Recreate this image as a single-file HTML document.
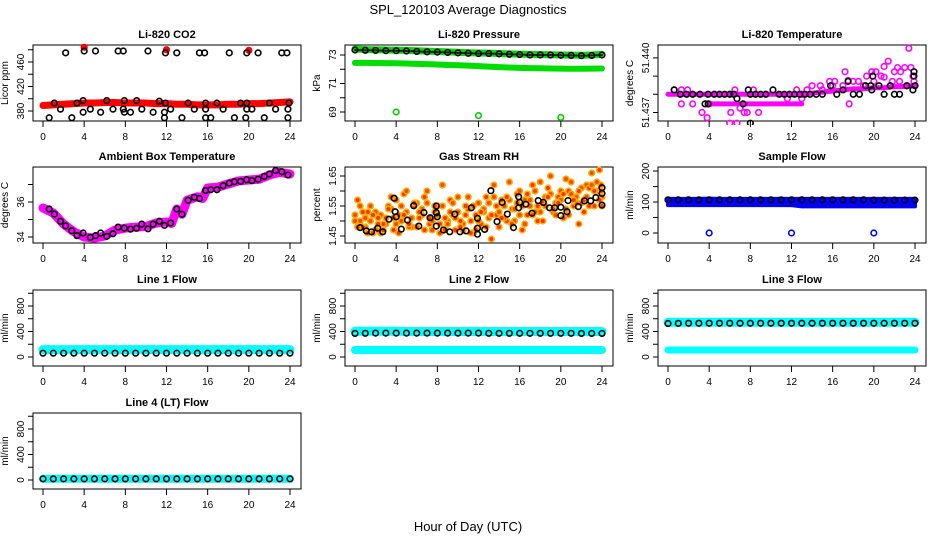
<!DOCTYPE html>
<html><head><meta charset="utf-8">
<style>
html,body{margin:0;padding:0;background:#fff;}
svg{display:block;font-family:"Liberation Sans",sans-serif;}
</style></head>
<body>
<svg id="chart" width="936" height="540" viewBox="0 0 936 540" xmlns="http://www.w3.org/2000/svg">
<text x="468" y="14" text-anchor="middle" font-size="13">SPL_120103  Average Diagnostics</text>
<text x="468" y="531" text-anchor="middle" font-size="13">Hour of Day (UTC)</text>
</svg>
<script>
// ---------- data ----------
const hours = [0,1,2,3,4,5,6,7,8,9,10,11,12,13,14,15,16,17,18,19,20,21,22,23,24];
const halfHours = [0,0.5,1,1.5,2,2.5,3,3.5,4,4.5,5,5.5,6,6.5,7,7.5,8,8.5,9,9.5,10,10.5,11,11.5,12,12.5,13,13.5,14,14.5,15,15.5,16,16.5,17,17.5,18,18.5,19,19.5,20,20.5,21,21.5,22,22.5,23,23.5,24];
const halfHoursB = [0.25,0.75,1.25,1.75,2.25,2.75,3.25,3.75,4.25,4.75,5.25,5.75,6.25,6.75,7.25,7.75,8.25,8.75,9.25,9.75,10.25,10.75,11.25,11.75,12.25,12.75,13.25,13.75,14.25,14.75,15.25,15.75,16.25,16.75,17.25,17.75,18.25,18.75,19.25,19.75,20.25,20.75,21.25,21.75,22.25,22.75,23.25,23.75,23.9];
const spikeHours = [4,12,20];

// CO2
const co2Red = [389,390,391,392,393,393,394,394,393,393,393,392,392,391,391,390,390,390,391,391,392,392,393,394,395];
const co2RedSpikes = [484,480,479];
const co2BlackX = [0.6,1.1,1.7,2.2,2.8,3.3,3.9,3.9,4,4.6,5.1,5.6,6.2,6.8,7.3,7.8,7.8,7.9,7.9,8.5,9.1,9.6,10.2,10.7,11.3,11.8,11.8,11.9,11.9,12.4,13,13.5,14.1,14.7,15.2,15.7,15.8,15.8,15.8,16.3,16.9,17.5,18.1,18.6,19.2,19.7,19.8,19.8,19.8,20.3,20.9,21.5,22,22.6,23.2,23.7,23.8,23.8,23.9];
const co2BlackY = [369,393,383,475,369,393,378,397,478,383,478,378,397,383,478,478,383,378,397,378,397,383,478,378,396,369,378,475,393,383,475,369,393,383,475,475,383,393,369,369,393,383,475,369,393,369,383,393,475,383,475,369,393,383,475,475,383,369,393];

// Pressure
const presBlack = [73.35,73.33,73.32,73.3,73.3,73.28,73.25,73.22,73.2,73.18,73.15,73.12,73.1,73.1,73.08,73.05,73.03,73.0,73.0,73.0,72.98,72.97,72.95,72.97,73.0];
const presGreenUp = [73.42,73.38,73.36,73.35,73.34,73.32,73.3,73.27,73.24,73.22,73.19,73.16,73.14,73.13,73.1,73.08,73.06,73.04,73.03,73.02,73.0,72.99,72.98,73.0,73.04];
const presGreenLow = [72.45,72.45,72.44,72.43,72.42,72.4,72.38,72.36,72.33,72.3,72.28,72.25,72.22,72.18,72.15,72.12,72.1,72.08,72.07,72.05,72.04,72.03,72.03,72.04,72.05];
const presSpikes = [69.0,68.75,68.62];

// Li-820 temperature
const tempBase = [51.438,51.438,51.438,51.438,51.438,51.438,51.438,51.438,51.438,51.438,51.438,51.438,51.438,51.438,51.43806,51.43812,51.43818,51.43824,51.4383,51.4383,51.43836,51.43836,51.43842,51.43842,51.43848];
const tempLowX = [4,5,6,7,8,9,10,11,12,13];
const tempLowY = [51.43747,51.43747,51.43747,51.43747,51.43747,51.43747,51.43747,51.43747,51.43747,51.43747];
const tempMagX = [0.6,1.3,1.9,1.3,2.4,3.3,3.8,4,6,6.1,6.5,6.7,7,7.4,7.7,8.3,8.8,11.6,12.5,13,13.5,14.8,15.7,16.2,17.2,17.6,17.5,18.5,19.3,19.8,20.2,20.7,21,21.4,21.8,22,22.3,22.6,23,23.2,23.4,23.6,23.8,23.9,16,18,20,22.5,21,19,14,15,13,17];
const tempMagY = [51.43824,51.43824,51.43824,51.43747,51.43747,51.437,51.43671,51.43747,51.43641,51.437,51.43824,51.43641,51.43724,51.437,51.437,51.43824,51.437,51.43776,51.43824,51.43776,51.43824,51.43847,51.43871,51.43871,51.43924,51.43747,51.43876,51.43871,51.439,51.43924,51.43924,51.439,51.43953,51.43982,51.43871,51.43924,51.43947,51.43924,51.43947,51.43847,51.44053,51.43947,51.439,51.43871,51.43847,51.43871,51.43871,51.43871,51.43894,51.43847,51.43847,51.43824,51.438,51.43847];
const tempBlkX = [0.6,1.2,1.8,2.4,3.1,3.6,3.9,3.9,4.5,5,5.5,6,6.4,6.7,7.3,7.8,8,8,8.5,9,9.5,10.2,10.8,11.3,11.8,12.3,12.8,13.3,13.8,14.4,15,15.8,16.4,17,17.5,18,18.6,19.2,19.7,19.9,19.8,20.5,21,21.6,22,22.5,23.2,23.8,23.9,23.9,24];
const tempBlkY = [51.43824,51.438,51.438,51.438,51.438,51.43747,51.43747,51.438,51.438,51.438,51.438,51.438,51.438,51.43776,51.43747,51.43824,51.43641,51.438,51.438,51.438,51.438,51.43824,51.438,51.438,51.438,51.438,51.438,51.438,51.438,51.438,51.438,51.43847,51.438,51.43824,51.43871,51.438,51.438,51.43847,51.43847,51.439,51.43824,51.43847,51.438,51.43847,51.438,51.438,51.43847,51.43824,51.439,51.43924,51.43847];

// Ambient box temperature
const ambMagX = [0,1,2,3,4,5,6,7,8,9,10,11,12,12.5,13,13.5,14,15,15.5,16,17,18,19,20,21,22,23,24];
const ambMagY = [35.66,35.37,34.74,34.3,34.0,33.94,34.06,34.4,34.51,34.57,34.6,34.8,34.86,34.78,35.6,35.3,36.1,36.3,36.2,36.8,36.85,37.03,37.2,37.26,37.3,37.54,37.7,37.6];
const ambBlkX = [0.6,1.1,1.7,2.2,2.8,3.3,3.9,4.6,5.1,5.6,6.2,6.8,7.3,7.9,8.5,9.1,9.6,10.2,10.7,11.3,11.8,12.4,13,13.5,14.1,14.7,15.2,15.8,16.3,16.9,17.5,18.1,18.6,19.2,19.8,20.3,20.9,21.5,22,22.6,23.2,23.8];
const ambBlkY = [35.6,35.31,34.9,34.64,34.36,34.08,34.23,33.98,34.08,34.23,34.04,34.19,34.57,34.51,34.45,34.5,34.74,34.47,34.74,34.9,34.67,34.8,35.6,35.3,36.1,36.27,36.2,36.66,36.7,36.7,36.93,37.08,37.16,37.18,37.27,37.22,37.3,37.46,37.6,37.8,37.73,37.54];

// Gas stream RH
const rhO1 = [1.52,1.50,1.48,1.55,1.47,1.52,1.49,1.54,1.57,1.50,1.53,1.48,1.56,1.52,1.60,1.47,1.55,1.62,1.50,1.52,1.58,1.49,1.54,1.46,1.56,1.53,1.51,1.58,1.48,1.55,1.63,1.50,1.52,1.57,1.55,1.60,1.53,1.58,1.65,1.56,1.60,1.54,1.63,1.58,1.56,1.62,1.66,1.60,1.58];
const rhO2 = [1.57,1.48,1.53,1.46,1.51,1.49,1.55,1.47,1.52,1.59,1.48,1.55,1.51,1.58,1.49,1.53,1.46,1.51,1.57,1.47,1.50,1.55,1.46,1.52,1.49,1.58,1.44,1.52,1.57,1.50,1.54,1.59,1.47,1.52,1.62,1.50,1.56,1.61,1.53,1.58,1.51,1.60,1.55,1.49,1.57,1.61,1.55,1.67,1.62];
const rhO3 = [1.50,1.55,1.51,1.50,1.53,1.46,1.51,1.58,1.49,1.55,1.60,1.51,1.48,1.54,1.56,1.50,1.52,1.55,1.49,1.56,1.53,1.47,1.58,1.55,1.50,1.54,1.56,1.62,1.53,1.51,1.57,1.54,1.60,1.49,1.57,1.53,1.63,1.55,1.59,1.52,1.57,1.64,1.59,1.56,1.61,1.58,1.62,1.63,1.55];
const rhO4 = [1.48,1.53,1.46,1.52,1.49,1.47,1.54,1.51,1.46,1.52,1.49,1.56,1.53,1.47,1.51,1.55,1.49,1.47,1.53,1.51,1.48,1.52,1.50,1.47,1.53,1.48,1.52,1.55,1.51,1.58,1.49,1.56,1.55,1.59,1.52,1.55,1.50,1.58,1.54,1.56,1.59,1.52,1.57,1.60,1.53,1.55,1.60,1.57,1.60];
const rhBlkX = [0.5,1.1,1.6,2.2,2.7,3.3,3.8,3.9,4.0,4.5,5.1,5.7,6.2,6.7,7.3,7.9,7.9,8.0,7.9,8.6,9.2,9.7,10.2,10.8,11.3,11.9,11.9,11.9,12.6,13.2,13.8,14.3,14.8,15.4,15.9,16.0,15.9,16.6,17.2,17.8,18.3,18.9,19.4,20.0,20.0,20.6,20.7,21.7,22.3,22.9,23.4,24.0,24.0,24.0];
const rhBlkY = [1.478,1.467,1.464,1.476,1.464,1.506,1.576,1.531,1.514,1.473,1.503,1.551,1.483,1.528,1.511,1.55,1.528,1.514,1.483,1.47,1.464,1.523,1.464,1.467,1.544,1.509,1.476,1.456,1.472,1.601,1.498,1.562,1.523,1.478,1.581,1.562,1.544,1.556,1.526,1.568,1.562,1.544,1.544,1.546,1.518,1.531,1.568,1.548,1.567,1.567,1.578,1.611,1.592,1.553];

// Sample flow
const sampleBlueUp = [110,110,110,110,111,110,110,110,110,110,110,110,110,110,110,110,110,110,110,110,110,110,110,110,110];
const sampleBlueLow = [90,90,90,90,90,90,90,90,90,90,90,90,90,86,86,86,86,86,86,86,86,86,86,86,86];
const sampleBlack = [107,107,107,107,107,107,107,107,107,107,107,107,107,107,107,107,107,107,107,107,106,106,106,106,106];
const sampleSpikes = [0,0,0];

// Line flows
const line1Cyan = [115,115,115,115,115,115,115,115,115,115,115,115,115,115,115,115,115,115,115,115,115,115,115,115,115];
const line1Black = [60,60,60,60,60,60,60,60,60,60,60,60,60,60,60,60,60,60,60,60,60,60,60,60,60];
const line2CyanUp = [405,405,405,405,405,400,400,400,400,400,400,400,400,400,400,400,400,400,400,400,400,400,400,400,400];
const line2CyanLow = [110,110,110,110,110,110,110,110,110,110,110,110,110,110,110,110,110,110,110,110,110,110,110,110,110];
const line2Black = [370,372,375,375,375,375,375,375,375,375,375,375,375,372,372,372,372,372,372,372,372,372,370,370,370];
const line3CyanUp = [545,545,545,545,545,545,545,545,545,545,545,545,545,545,545,545,545,545,545,545,545,545,545,545,545];
const line3CyanLow = [110,110,110,110,110,110,110,110,110,110,110,110,110,110,110,110,110,110,110,110,110,110,110,110,110];
const line3Black = [525,528,530,530,530,530,530,530,530,530,530,530,530,530,530,530,530,530,530,530,530,530,530,530,530];
const line4Cyan = [20,20,20,20,20,20,20,20,20,20,20,20,20,20,20,20,20,20,20,20,20,20,20,20,20];
const line4Black = [18,18,18,18,18,18,18,18,18,18,18,18,18,18,18,18,18,18,18,18,18,18,18,18,18];

const xTicks = [0,4,8,12,16,20,24];

// ---------- drawing ----------
const svg = document.getElementById('chart');
const NS = 'http://www.w3.org/2000/svg';
function mk(tag, parent){ const e = document.createElementNS(NS, tag); parent.appendChild(e); return e; }

const cols = [33, 345, 658];
const tops = [45, 167, 290, 413];
const W = 268, H = 76;

function makePanel(slug, title, ylab, col, row, ymin, ymax, ticks, labels, fmt){
  const L = cols[col], T = tops[row];
  const g = mk('g', svg);
  
  
  const x = h => L + 10 + h * (W - 21) / 24;
  const y = v => T + H - (v - ymin) / (ymax - ymin) * H;
  const box = mk('rect', g);
  box.setAttribute('x', L); box.setAttribute('y', T); box.setAttribute('width', W); box.setAttribute('height', H);
  box.setAttribute('fill', 'none'); box.setAttribute('stroke', '#000'); box.setAttribute('stroke-width', '1');
  
  
  const t = mk('text', g);
  t.setAttribute('x', L + W / 2); t.setAttribute('y', T - 7); t.setAttribute('text-anchor', 'middle');
  t.setAttribute('font-size', '11'); t.setAttribute('font-weight', 'bold');
  t.textContent = title;
  
  
  const yl = mk('text', g);
  yl.setAttribute('transform', `translate(${L - 25},${T + H / 2}) rotate(-90)`);
  yl.setAttribute('text-anchor', 'middle'); yl.setAttribute('font-size', '10');
  yl.textContent = ylab;
  
  
  // x axis
  const xa = mk('path', g);
  let d = `M${x(0)},${T + H}H${x(24)}`;
  xTicks.forEach(v => { d += `M${x(v)},${T + H}v6`; });
  xa.setAttribute('d', d); xa.setAttribute('stroke', '#000'); xa.setAttribute('fill', 'none');
  
  
  xTicks.forEach(v => {
    const tl = mk('text', g);
    tl.setAttribute('x', x(v)); tl.setAttribute('y', T + H + 19); tl.setAttribute('text-anchor', 'middle'); tl.setAttribute('font-size', '10');
    tl.textContent = v;
    
    
  });
  // y axis
  const ya = mk('path', g);
  let dy = `M${L},${y(ticks[0])}V${y(ticks[ticks.length - 1])}`;
  ticks.forEach(v => { dy += `M${L},${y(v)}h-5`; });
  ya.setAttribute('d', dy); ya.setAttribute('stroke', '#000'); ya.setAttribute('fill', 'none');
  
  
  labels.forEach(v => {
    const tl = mk('text', g);
    tl.setAttribute('transform', `translate(${L - 9},${y(v)}) rotate(-90)`);
    tl.setAttribute('text-anchor', 'middle'); tl.setAttribute('font-size', '10');
    tl.textContent = fmt ? fmt(v) : v;
    
    
  });
  const clipId = 'clip-' + slug;
  const cp = mk('clipPath', g); cp.setAttribute('id', clipId);
  const cr = mk('rect', cp); cr.setAttribute('x', L - 4); cr.setAttribute('y', T - 4); cr.setAttribute('width', W + 8); cr.setAttribute('height', H + 8);
  const data = mk('g', g);
  data.setAttribute('clip-path', `url(#${clipId})`);
  
  
  return {g: data, x, y};
}

function band(p, xs, ys, color, width, name){
  const pl = mk('polyline', p.g);
  pl.setAttribute('points', xs.map((h, i) => `${p.x(h)},${p.y(ys[i])}`).join(' '));
  pl.setAttribute('fill', 'none'); pl.setAttribute('stroke', color); pl.setAttribute('stroke-width', width);
  pl.setAttribute('stroke-linecap', 'round'); pl.setAttribute('stroke-linejoin', 'round');
  
  
}
function area(p, xs, up, low, color, name){
  const pts = xs.map((h, i) => `${p.x(h)},${p.y(up[i])}`).concat(xs.slice().reverse().map((h, j) => `${p.x(h)},${p.y(low[xs.length - 1 - j])}`));
  const pg = mk('polygon', p.g);
  pg.setAttribute('points', pts.join(' '));
  pg.setAttribute('fill', color); pg.setAttribute('stroke', color); pg.setAttribute('stroke-width', '4'); pg.setAttribute('stroke-linejoin', 'round');
  
  
}
function pts(p, xs, ys, color, name, fill){
  xs.forEach((h, i) => {
    const c = mk('circle', p.g);
    c.setAttribute('cx', p.x(h)); c.setAttribute('cy', p.y(ys[i])); c.setAttribute('r', '2.8');
    c.setAttribute('fill', fill || 'none'); c.setAttribute('stroke', color); c.setAttribute('stroke-width', '1.6');
    
    
  });
}

// CO2
let p = makePanel('co2', 'Li-820 CO2', 'Licor ppm', 0, 0, 363.7, 487.8, [380,400,420,440,460,480], [380,420,460]);
band(p, hours, co2Red, '#ff0000', 7, 'co2-red-band');
pts(p, spikeHours, co2RedSpikes, '#ff0000', 'co2-red-point', '#ff0000');
pts(p, co2BlackX, co2BlackY, '#000', 'co2-black-point');

// Pressure
p = makePanel('pressure', 'Li-820 Pressure', 'kPa', 1, 0, 68.37, 73.7, [69,70,71,72,73], [69,71,73]);
band(p, hours, presGreenUp, '#00dd00', 7, 'pressure-green-upper-band');
band(p, hours, presGreenLow, '#00dd00', 6, 'pressure-green-lower-band');
pts(p, spikeHours, presSpikes, '#00cc00', 'pressure-green-point');
band(p, hours, presBlack, '#222', 2, 'pressure-black-line');
pts(p, hours, presBlack, '#000', 'pressure-black-point');

// Li-820 temperature
p = makePanel('li820-temp', 'Li-820 Temperature', 'degrees C', 2, 0, 51.43653, 51.44071, [51.437,51.438,51.439,51.44], [51.437,51.44], v => v.toFixed(3));
band(p, hours, tempBase, '#ff00ff', 5, 'li820-temp-magenta-band');
band(p, tempLowX, tempLowY, '#ff00ff', 5, 'li820-temp-magenta-low-band');
pts(p, tempMagX, tempMagY, '#ff00ff', 'li820-temp-magenta-point');
pts(p, tempBlkX, tempBlkY, '#000', 'li820-temp-black-point');

// Ambient
p = makePanel('ambient-temp', 'Ambient Box Temperature', 'degrees C', 0, 1, 33.66, 38.0, [34,35,36,37], [34,36]);
band(p, ambMagX, ambMagY, '#ff00ff', 9, 'ambient-magenta-band');
pts(p, ambBlkX, ambBlkY, '#000', 'ambient-black-point');

// RH
p = makePanel('rh', 'Gas Stream RH', 'percent', 1, 1, 1.4267, 1.68, [1.45,1.5,1.55,1.6,1.65], [1.45,1.55,1.65], v => v.toFixed(2));
pts(p, halfHours, rhO1, '#ffa500', 'rh-orange-point', '#e85000');
pts(p, halfHoursB, rhO2, '#ffb000', 'rh-orange-point', '#ff3000');
pts(p, halfHours, rhO3, '#ffa500', 'rh-orange-point', '#e85000');
pts(p, halfHoursB, rhO4, '#ffb000', 'rh-orange-point', '#ff3000');
pts(p, rhBlkX, rhBlkY, '#000', 'rh-black-point');

// Sample flow
p = makePanel('sample-flow', 'Sample Flow', 'ml/min', 2, 1, -32.3, 212.9, [0,50,100,150,200], [0,100,200]);
area(p, hours, sampleBlueUp, sampleBlueLow, '#0000ff', 'sample-flow-blue-band');
pts(p, spikeHours, sampleSpikes, '#0000ff', 'sample-flow-blue-point');
pts(p, hours, sampleBlack, '#000', 'sample-flow-black-point');

// Line flows
const flowTicks = [0,200,400,600,800,1000], flowLabels = [0,400,800];
p = makePanel('line1-flow', 'Line 1 Flow', 'ml/min', 0, 2, -141, 1051, flowTicks, flowLabels);
band(p, hours, line1Cyan, '#00ffff', 9, 'line1-cyan-band');
pts(p, hours, line1Black, '#000', 'line1-black-point');

p = makePanel('line2-flow', 'Line 2 Flow', 'ml/min', 1, 2, -141, 1051, flowTicks, flowLabels);
band(p, hours, line2CyanUp, '#00ffff', 9, 'line2-cyan-upper-band');
band(p, hours, line2CyanLow, '#00ffff', 8, 'line2-cyan-lower-band');
pts(p, hours, line2Black, '#000', 'line2-black-point');

p = makePanel('line3-flow', 'Line 3 Flow', 'ml/min', 2, 2, -141, 1051, flowTicks, flowLabels);
band(p, hours, line3CyanUp, '#00ffff', 9, 'line3-cyan-upper-band');
band(p, hours, line3CyanLow, '#00ffff', 7, 'line3-cyan-lower-band');
pts(p, hours, line3Black, '#000', 'line3-black-point');

p = makePanel('line4-flow', 'Line 4 (LT) Flow', 'ml/min', 0, 3, -141, 1051, flowTicks, flowLabels);
band(p, hours, line4Cyan, '#00ffff', 8, 'line4-cyan-band');
pts(p, hours, line4Black, '#000', 'line4-black-point');
</script>
</body></html>
